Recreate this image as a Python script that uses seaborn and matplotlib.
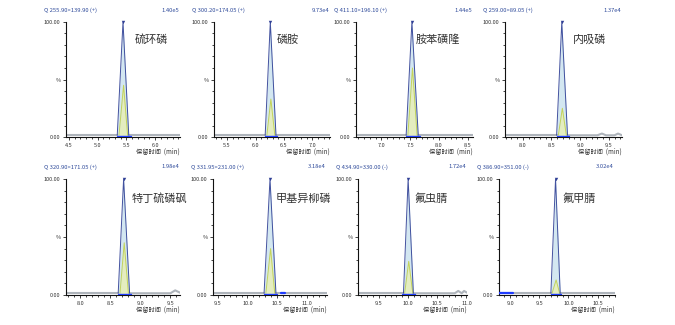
import matplotlib
matplotlib.use("Agg")
import matplotlib.pyplot as plt
import seaborn as sns
import pandas as pd
from matplotlib.ticker import MultipleLocator, FixedLocator, FormatStrFormatter

sns.set_style("ticks")
plt.rcParams['font.family'] = ['Noto Sans CJK SC', 'DejaVu Sans']

# compound names, MRM transitions and full-scale intensities
compounds = ["硫环磷", "磷胺", "胺苯磺隆", "内吸磷",
             "特丁硫磷砜", "甲基异柳磷", "氟虫腈", "氟甲腈"]
transitions = ["Q 255.90>139.90 (+)", "Q 300.20>174.05 (+)", "Q 411.10>196.10 (+)",
               "Q 259.00>89.05 (+)", "Q 320.90>171.05 (+)", "Q 331.95>231.00 (+)",
               "Q 434.90>330.00 (-)", "Q 386.90>351.00 (-)"]
scales = ["1.40e5", "9.73e4", "1.44e5", "1.37e4", "1.98e4", "3.18e4", "1.72e4", "3.02e4"]

# retention-time window of each panel (min)
t_start = [4.45, 5.27, 6.56, 7.69, 7.76, 9.42, 9.14, 8.81]
t_end = [6.43, 7.31, 8.59, 9.73, 9.66, 11.34, 11.01, 10.80]

# quantifier ion trace (time, relative %)
main_t = [
    [4.45, 5.34, 5.44, 5.54, 6.43],
    [5.27, 6.17, 6.26, 6.36, 7.31],
    [6.56, 7.43, 7.53, 7.64, 8.59],
    [7.69, 8.59, 8.68, 8.78, 9.30, 9.38, 9.45, 9.60, 9.66, 9.73],
    [7.76, 8.63, 8.72, 8.82, 9.50, 9.58, 9.66],
    [9.42, 10.28, 10.38, 10.48, 11.34],
    [9.14, 9.92, 10.00, 10.09, 10.80, 10.86, 10.92, 10.96, 11.01],
    [8.81, 9.70, 9.78, 9.86, 10.80],
]
main_pct = [
    [1.5, 1.5, 100, 1.5, 1.5],
    [1.5, 1.5, 100, 1.5, 1.5],
    [1.5, 1.5, 100, 1.5, 1.5],
    [1.5, 1.5, 100, 1.5, 1.5, 3.0, 1.5, 1.5, 3.0, 1.5],
    [1.5, 1.5, 100, 1.5, 1.5, 4.0, 2.0],
    [1.5, 1.5, 100, 1.5, 1.5],
    [1.5, 1.5, 100, 1.5, 1.5, 3.5, 1.5, 3.5, 2.0],
    [1.5, 1.5, 100, 1.5, 1.5],
]
# index of the apex in each quantifier trace
apex_idx = [2, 2, 2, 2, 2, 2, 2, 2]

# qualifier ion trace (time, relative %)
qual_t = [
    [5.37, 5.45, 5.52],
    [6.20, 6.27, 6.34],
    [7.46, 7.54, 7.62],
    [8.62, 8.69, 8.76],
    [8.66, 8.73, 8.80],
    [10.31, 10.39, 10.46],
    [9.94, 10.01, 10.08],
    [9.72, 9.79, 9.85],
]
qual_pct = [
    [1.5, 45, 1.5],
    [1.5, 33, 1.5],
    [1.5, 60, 1.5],
    [1.5, 25, 1.5],
    [1.5, 45, 1.5],
    [1.5, 40, 1.5],
    [1.5, 29, 1.5],
    [1.5, 13, 1.5],
]

# integration baseline under each peak (start, end)
int_start = [5.33, 6.17, 7.43, 8.59, 8.63, 10.28, 9.89, 9.71]
int_end = [5.58, 6.38, 7.67, 8.80, 8.84, 10.50, 10.11, 9.88]

# additional integrated baseline stretches (panel index, start, end)
extra_panel = [5, 7]
extra_start = [10.57, 8.81]
extra_end = [10.63, 9.05]

# compound label anchor (time, %)
label_t = [5.64, 6.37, 7.60, 8.88, 8.86, 10.47, 10.10, 9.90]
label_pct = [85, 85, 85, 85, 83, 83, 83, 83]

W, H = 675, 325
# axes boxes in pixels: left, right, top, bottom
boxes = [
    (66, 180, 22, 137), (214, 330, 22, 137), (356, 473, 22, 137), (505, 622, 22, 137),
    (66, 180, 179, 295), (213, 327, 179, 295), (358, 467, 179, 295), (499, 615, 179, 295),
]

NAVY = "#2f3f95"
GREY = "#aeb4bb"
FILL = "#d3e7f1"
QUAL = "#c3d35a"
QFILL = "#e4edc0"
INT = "#1f3cff"
TXT = "#333333"
HEAD = "#2e4a9a"

fig = plt.figure(figsize=(W / 100, H / 100), dpi=100)
fig.patch.set_facecolor("white")

for i in range(8):
    l, r, t, b = boxes[i]
    ax = fig.add_axes([l / W, 1 - b / H, (r - l) / W, (b - t) / H])
    ax.set_facecolor("white")

    df = pd.DataFrame({"t": main_t[i], "pct": main_pct[i]})
    k = apex_idx[i]
    peak = df.iloc[k - 1:k + 2]
    base_left = df.iloc[:k]
    base_right = df.iloc[k + 1:]
    qdf = pd.DataFrame({"t": qual_t[i], "pct": qual_pct[i]})

    ax.fill_between(peak["t"], 0.8, peak["pct"], color=FILL, lw=0, zorder=1)
    ax.fill_between(qdf["t"], 0.8, qdf["pct"], color=QFILL, lw=0, zorder=1.5)
    for seg in (base_left, base_right):
        sns.lineplot(data=seg, x="t", y="pct", ax=ax, color=GREY, lw=1.5,
                     estimator=None, sort=False, zorder=2)
    sns.lineplot(data=qdf, x="t", y="pct", ax=ax, color=QUAL, lw=0.7,
                 estimator=None, sort=False, zorder=3)
    sns.lineplot(data=peak, x="t", y="pct", ax=ax, color=NAVY, lw=0.7,
                 estimator=None, sort=False, zorder=4, alpha=0.9)
    ax.plot([int_start[i], int_end[i]], [1.2, 1.2], color=INT, lw=1.0, zorder=5)
    for p, s0, s1 in zip(extra_panel, extra_start, extra_end):
        if p == i:
            ax.plot([s0, s1], [1.8, 1.8], color=INT, lw=1.6, zorder=5)
    ax.scatter([df["t"].iloc[k]], [df["pct"].iloc[k]], marker="v", s=6,
               color=NAVY, zorder=6, clip_on=False, linewidths=0)

    ax.text(label_t[i], label_pct[i], compounds[i], fontsize=8, color=TXT,
            ha="left", va="center")

    ax.set_xlim(t_start[i], t_end[i])
    ax.set_ylim(0, 100)
    ax.set_xlabel("")
    ax.set_ylabel("")
    ax.xaxis.set_major_locator(MultipleLocator(0.5))
    ax.xaxis.set_minor_locator(MultipleLocator(0.1))
    ax.xaxis.set_major_formatter(FormatStrFormatter("%.1f"))
    ax.yaxis.set_major_locator(FixedLocator([0, 50, 100]))
    ax.set_yticklabels(["0.00", "%", "100.00"])
    ax.yaxis.set_minor_locator(MultipleLocator(10))
    ax.tick_params(which="major", direction="out", length=2.5, width=0.6,
                   labelsize=4, pad=1.5, colors="#222222", labelcolor=TXT)
    ax.tick_params(which="minor", direction="out", length=1.5, width=0.6,
                   colors="#222222")
    for s in ("top", "right"):
        ax.spines[s].set_visible(False)
    for s in ("left", "bottom"):
        ax.spines[s].set_linewidth(0.8)
        ax.spines[s].set_color("#111111")

    ax.text(1.0, -15 / (b - t), "保留时间  (min)", transform=ax.transAxes,
            fontsize=4.5, color=TXT, ha="right", va="center")
    fig.text((l - 22) / W, 1 - (t - 12) / H, transitions[i], fontsize=4.2,
             color=HEAD, ha="left", va="center")
    fig.text((r - 1) / W, 1 - (t - 12) / H, scales[i], fontsize=4.2,
             color=HEAD, ha="right", va="center")

fig.savefig("out.png", dpi=100, facecolor="white")
